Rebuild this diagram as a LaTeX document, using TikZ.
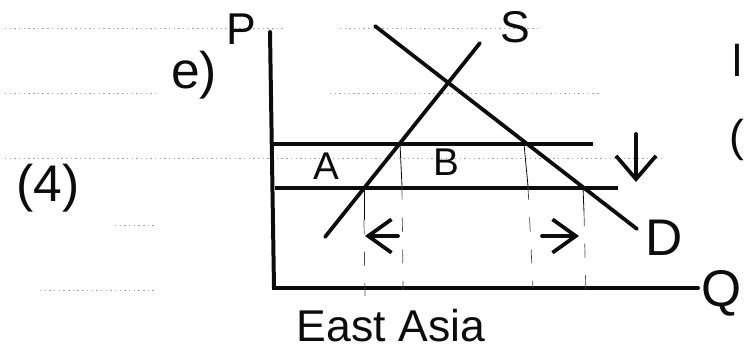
\documentclass[tikz,border=0pt]{standalone}
\usepackage{fontspec}
\setmainfont{Liberation Sans}
\usetikzlibrary{arrows.meta}
\definecolor{ink}{RGB}{12,12,12}
\definecolor{ruled}{RGB}{165,165,165}
\tikzset{
  axis/.style     = {draw=ink, line width=3.4pt, line cap=round},
  curve/.style    = {draw=ink, line width=3.2pt, line cap=round},
  price/.style    = {draw=ink, line width=3.4pt},
  drop/.style     = {draw=ink, line width=0.7pt},
  dropdash/.style = {draw=ink!75, line width=0.6pt, dash pattern=on 12pt off 15pt},
  ruleline/.style = {draw=ruled, line width=0.5pt, dash pattern=on 1.2pt off 2.8pt},
  qarrow/.style   = {-{Straight Barb[length=7mm,width=10mm,line width=3.2pt]}, draw=ink, line width=3.2pt, line cap=round},
  fall/.style     = {-{Straight Barb[length=7mm,width=12mm,line width=3.2pt]}, draw=ink, line width=3.2pt, line cap=round},
  hand/.style     = {text=ink, inner sep=0pt},
  big/.style      = {hand, font=\fontsize{44}{44}\selectfont},
  mid/.style      = {hand, font=\fontsize{38}{38}\selectfont},
  small/.style    = {hand, font=\fontsize{33}{33}\selectfont},
}

\begin{document}
\begin{tikzpicture}[x=0.03cm, y=-0.03cm]
\useasboundingbox (0,0) rectangle (745,356);

% ======================================================= ruled paper
\draw[ruleline] (5,28) -- (285,28);
\draw[ruleline] (340,28) -- (540,28);
\draw[ruleline] (5,93) -- (155,93);
\draw[ruleline] (330,93) -- (600,93);
\draw[ruleline] (5,158) -- (665,158);
\draw[ruleline] (115,225) -- (155,225);
\draw[ruleline] (40,290) -- (155,290);

% ======================================================= axes
\coordinate (Ptop) at (270,32);
\coordinate (O)    at (274,288);
\coordinate (Qend) at (698,288);
\draw[axis] (Ptop) -- (O) -- (Qend);
\node[mid] (P) at (241,29) {P};
\node[big] (Q) at (722,293) {Q};

% ======================================================= supply and demand
\coordinate (S1) at (325,237);
\coordinate (S2) at (480,43);
\coordinate (D1) at (375,26);
\coordinate (D2) at (637,229);
\draw[curve] (S1) -- (S2);
\draw[curve] (D1) -- (D2);
\node[mid] (S) at (515,27) {S};
\node[big] (D) at (664,238) {D};

% ======================================================= world prices
\coordinate (hiL) at (272,144);
\coordinate (hiR) at (593,144);
\coordinate (loL) at (275,188);
\coordinate (loR) at (618,188);
\draw[price] (hiL) -- (hiR);
\draw[price] (loL) -- (loR);

% points where the price lines cut S and D, and their drops to the Q axis
\coordinate (sHi) at (400,144);
\coordinate (sLo) at (364,188);
\coordinate (dHi) at (524,144);
\coordinate (dLo) at (583,188);
\coordinate (sHiM) at (402,186);
\coordinate (sLoM) at (364,220);
\coordinate (dHiM) at (528,186);
\coordinate (dLoM) at (584,212);
\coordinate (sHiQ) at (403,290);
\coordinate (sLoQ) at (365,296);
\coordinate (dHiQ) at (533,288);
\coordinate (dLoQ) at (586,296);
\draw[drop] (sHi) -- (sHiM);
\draw[drop] (sLo) -- (sLoM);
\draw[drop] (dHi) -- (dHiM);
\draw[drop] (dLo) -- (dLoM);
\draw[dropdash] (sHiM) -- (sHiQ);
\draw[dropdash] (sLoM) -- (sLoQ);
\draw[dropdash] (dHiM) -- (dHiQ);
\draw[dropdash] (dLoM) -- (dLoQ);

\node[small] (A) at (326,166) {A};
\node[small] (B) at (446,162) {B};

% ======================================================= shifts
\coordinate (impR) at (398,236);
\coordinate (impL) at (365,236);
\coordinate (expL) at (542,236);
\coordinate (expR) at (579,236);
\coordinate (dropT) at (636,134);
\coordinate (dropB) at (636,182);
\draw[qarrow] (impR) -- (impL);
\draw[qarrow] (expL) -- (expR);
\draw[fall] (dropT) -- (dropB);

% ======================================================= margin notes
\node[big] (part) at (194,75) {e)};
\node[big] (num) at (48,188) {(4)};
\node[mid] (region) at (391,326) {East Asia};
\node[mid] (cutA) at (737,60) {l};
\node[mid] (cutB) at (737,140) {(};

\end{tikzpicture}
\end{document}
